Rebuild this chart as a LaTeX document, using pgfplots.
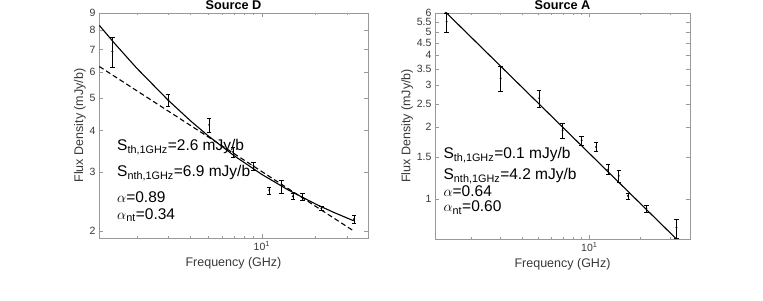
\documentclass[border=0pt]{standalone}
\usepackage{pgfplots}
\pgfplotsset{compat=1.18}
\usepackage{pgfplotstable}
\usepackage{fontspec}
\setmainfont{Liberation Sans}
\definecolor{axgray}{gray}{0.6}
\definecolor{txtgray}{gray}{0.22}

\pgfplotstableread{
f S ep em
1.46 6.90 0.70 0.70
3.00 4.94 0.20 0.20
5.08 4.16 0.20 0.20
6.90 3.45 0.11 0.12
8.97 3.14 0.08 0.10
11.0 2.65 0.05 0.07
12.9 2.74 0.09 0.15
14.9 2.54 0.06 0.06
16.9 2.52 0.07 0.05
21.5 2.34 0.03 0.03
32.7 2.17 0.06 0.06
}\tabD

\pgfplotstableread{
f S
1.236 8.26
1.5 7.306
2 6.149
3 4.926
4 4.273
5 3.860
7 3.361
10 2.954
14 2.656
20 2.407
25 2.278
32.6 2.145
}\fitD

\pgfplotstableread{
f S
1.236 6.22
32.6 2.00
}\ntD

\pgfplotstableread{
f S ep em
1.44 5.52 0.46 0.54
3.00 3.20 0.40 0.37
5.06 2.64 0.22 0.21
6.95 1.94 0.13 0.14
9.00 1.76 0.07 0.08
10.96 1.65 0.07 0.06
12.9 1.33 0.07 0.06
14.9 1.25 0.07 0.08
16.9 1.03 0.03 0.03
21.7 0.914 0.03 0.037
32.6 0.759 0.065 0.074
}\tabA

\pgfplotstableread{
f S
1.22 6.73
32.6 0.68
}\fitA

\begin{document}
\begin{tikzpicture}
\path[use as bounding box] (0,0) rectangle (763pt,300pt);
\begin{axis}[at={(99pt,62pt)}, anchor=south west, scale only axis, width=269pt, height=225pt,
  xmode=log, ymode=log,
  xmin=1.23, xmax=39.2,
  xtick={10}, xticklabels={10\textsuperscript{1}},
  minor xtick={2,3,4,5,6,7,8,9,20,30},
  tick align=inside,
  axis line style={axgray, line width=0.6pt},
  tick style={axgray, line width=0.5pt},
  major tick length=4pt, minor tick length=2.5pt,
  tick label style={font=\fontsize{10.5}{12}\selectfont, text=txtgray},
  label style={font=\fontsize{12.5}{14}\selectfont, text=txtgray},
  every axis title shift=0pt,
  title style={font=\bfseries\fontsize{12.7}{14}\selectfont, anchor=base, at={(0.5,1)}, yshift=3.7pt, inner sep=0pt},
  xlabel={Frequency (GHz)}, ylabel={Flux Density (mJy/b)},
  ylabel style={yshift=-3pt},
  ymin=1.905, ymax=9,
  ytick={2,3,4,5,6,7,8,9}, yticklabels={2,3,4,5,6,7,8,9},
  title={Source D}]
\addplot[black, line width=1.1pt] table[x=f, y=S] {\fitD};
\addplot[black, line width=1.1pt, dash pattern=on 5pt off 3pt] table[x=f, y=S] {\ntD};
\addplot[black, only marks, mark=*, mark size=0.7pt,
    error bars/.cd, y dir=both, y explicit,
    error bar style={line width=0.6pt, black},
    error mark options={rotate=90, mark size=2.2pt, line width=0.6pt, black}]
  table[x=f, y=S, y error plus=ep, y error minus=em] {\tabD};
\node[anchor=base west, font=\fontsize{15.5}{17}\selectfont, inner sep=0pt] at (rel axis cs:0.067,0.387) {S\textsubscript{th,1GHz}=2.6 mJy/b};
\node[anchor=base west, font=\fontsize{15.5}{17}\selectfont, inner sep=0pt] at (rel axis cs:0.067,0.272) {S\textsubscript{nth,1GHz}=6.9 mJy/b};
\node[anchor=base west, font=\fontsize{15.5}{17}\selectfont, inner sep=0pt] at (rel axis cs:0.067,0.156) {$\alpha$=0.89};
\node[anchor=base west, font=\fontsize{15.5}{17}\selectfont, inner sep=0pt] at (rel axis cs:0.067,0.084) {$\alpha$\textsubscript{nt}=0.34};
\end{axis}

\begin{axis}[at={(435pt,61pt)}, anchor=south west, scale only axis, width=255pt, height=226pt,
  xmode=log, ymode=log,
  xmin=1.23, xmax=39.2,
  xtick={10}, xticklabels={10\textsuperscript{1}},
  minor xtick={2,3,4,5,6,7,8,9,20,30},
  tick align=inside,
  axis line style={axgray, line width=0.6pt},
  tick style={axgray, line width=0.5pt},
  major tick length=4pt, minor tick length=2.5pt,
  tick label style={font=\fontsize{10.5}{12}\selectfont, text=txtgray},
  label style={font=\fontsize{12.5}{14}\selectfont, text=txtgray},
  every axis title shift=0pt,
  title style={font=\bfseries\fontsize{12.7}{14}\selectfont, anchor=base, at={(0.5,1)}, yshift=3.7pt, inner sep=0pt},
  xlabel={Frequency (GHz)}, ylabel={Flux Density (mJy/b)},
  ylabel style={yshift=-3pt},
  ymin=0.68, ymax=6,
  ytick={1,1.5,2,2.5,3,3.5,4,4.5,5,5.5,6}, yticklabels={1,1.5,2,2.5,3,3.5,4,4.5,5,5.5,6},
  title={Source A}]
\addplot[black, line width=1.1pt] table[x=f, y=S] {\fitA};
\addplot[black, only marks, mark=*, mark size=0.7pt,
    error bars/.cd, y dir=both, y explicit,
    error bar style={line width=0.6pt, black},
    error mark options={rotate=90, mark size=2.2pt, line width=0.6pt, black}]
  table[x=f, y=S, y error plus=ep, y error minus=em] {\tabA};
\node[anchor=base west, font=\fontsize{15.5}{17}\selectfont, inner sep=0pt] at (rel axis cs:0.033,0.354) {S\textsubscript{th,1GHz}=0.1 mJy/b};
\node[anchor=base west, font=\fontsize{15.5}{17}\selectfont, inner sep=0pt] at (rel axis cs:0.033,0.263) {S\textsubscript{nth,1GHz}=4.2 mJy/b};
\node[anchor=base west, font=\fontsize{15.5}{17}\selectfont, inner sep=0pt] at (rel axis cs:0.033,0.186) {$\alpha$=0.64};
\node[anchor=base west, font=\fontsize{15.5}{17}\selectfont, inner sep=0pt] at (rel axis cs:0.033,0.120) {$\alpha$\textsubscript{nt}=0.60};
\end{axis}
\end{tikzpicture}
\end{document}
